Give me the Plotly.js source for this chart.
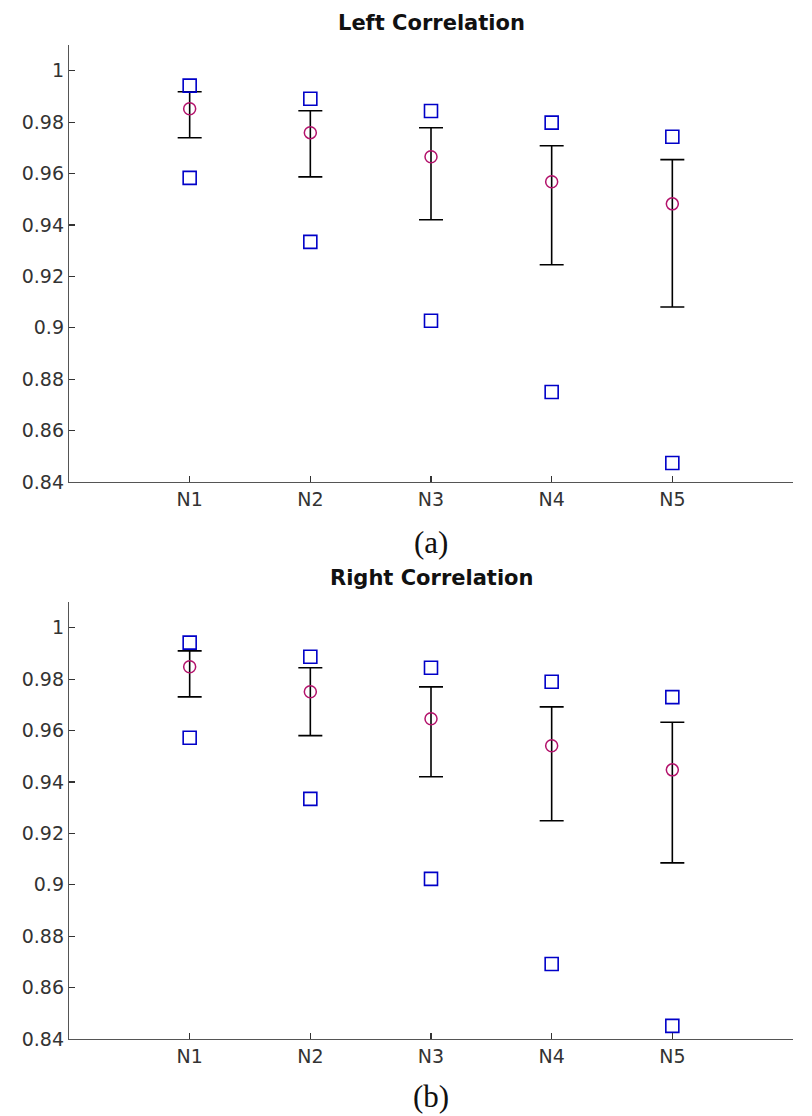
<!DOCTYPE html>
<html>
<head>
<meta charset="utf-8">
<script src="https://cdn.plot.ly/plotly-3.0.1.min.js"></script>
<style>html,body{margin:0;padding:0;background:#fff;}#chart{width:812px;height:1116px;}</style>
</head>
<body>
<div id="chart"></div>
<script>
const categories = ["N1", "N2", "N3", "N4", "N5"];
const positions = [1, 2, 3, 4, 5];

// Left correlation
const leftMean  = [0.9852, 0.9759, 0.9665, 0.9568, 0.9482];
const leftUpper = [0.9918, 0.9844, 0.9778, 0.9708, 0.9654];
const leftLower = [0.9739, 0.9587, 0.9420, 0.9245, 0.9081];
const leftMax   = [0.9942, 0.9891, 0.9843, 0.9798, 0.9743];
const leftMin   = [0.9583, 0.9334, 0.9027, 0.8750, 0.8474];

// Right correlation
const rightMean  = [0.9848, 0.9751, 0.9646, 0.9541, 0.9447];
const rightUpper = [0.9910, 0.9844, 0.9770, 0.9692, 0.9632];
const rightLower = [0.9731, 0.9580, 0.9420, 0.9249, 0.9085];
const rightMax   = [0.9942, 0.9887, 0.9844, 0.9790, 0.9730];
const rightMin   = [0.9572, 0.9334, 0.9023, 0.8692, 0.8451];

const yTicks = [0.84, 0.86, 0.88, 0.9, 0.92, 0.94, 0.96, 0.98, 1];
const yTickText = ["0.84", "0.86", "0.88", "0.9", "0.92", "0.94", "0.96", "0.98", "1"];

const circleColor = "#b3126b";
const squareColor = "#0000c8";

function traces(mean, upper, lower, mx, mn, xa, ya) {
  return [
    {
      x: positions, y: mean, xaxis: xa, yaxis: ya, type: "scatter", mode: "markers",
      marker: {symbol: "circle-open", size: 12, color: circleColor, line: {width: 1.5, color: circleColor}},
      error_y: {
        type: "data", symmetric: false,
        array: upper.map((u, i) => u - mean[i]),
        arrayminus: lower.map((l, i) => mean[i] - l),
        color: "#000", thickness: 1.6, width: 12
      },
      showlegend: false, hoverinfo: "y"
    },
    {
      x: positions.concat(positions), y: mx.concat(mn), xaxis: xa, yaxis: ya, type: "scatter", mode: "markers",
      marker: {symbol: "square-open", size: 13, color: squareColor, line: {width: 1.6, color: squareColor}},
      showlegend: false, hoverinfo: "y"
    }
  ];
}

const data = traces(leftMean, leftUpper, leftLower, leftMax, leftMin, "x", "y")
  .concat(traces(rightMean, rightUpper, rightLower, rightMax, rightMin, "x2", "y2"));

const tickFont = {family: "DejaVu Sans, Liberation Sans, sans-serif", size: 19, color: "#333"};

function xAxis(anchor) {
  return {
    range: [0, 6], tickvals: positions, ticktext: categories, anchor: anchor,
    showgrid: false, zeroline: false, showline: true, linecolor: "#555", linewidth: 1.2,
    ticks: "inside", ticklen: 6, tickcolor: "#333", tickwidth: 1.2, tickfont: tickFont, mirror: false
  };
}
function yAxis(anchor, domain) {
  return {
    range: [0.84, 1.01], tickvals: yTicks, ticktext: yTickText, anchor: anchor, domain: domain,
    showgrid: false, zeroline: false, showline: true, linecolor: "#555", linewidth: 1.2,
    ticks: "inside", ticklen: 6, tickcolor: "#333", tickwidth: 1.2, tickfont: tickFont
  };
}

const H = 994, sub = 437;
const titleFont = {family: "DejaVu Sans, Liberation Sans, sans-serif", size: 21, color: "#111"};
const capFont = {family: "Liberation Serif, Times New Roman, serif", size: 31, color: "#111"};
const layout = {
  width: 812, height: 1116,
  margin: {l: 69, r: 19, t: 45, b: 77},
  paper_bgcolor: "#fff", plot_bgcolor: "#fff",
  xaxis: xAxis("y"),
  yaxis: yAxis("x", [(H - sub) / H, 1]),
  xaxis2: xAxis("y2"),
  yaxis2: yAxis("x2", [0, sub / H]),
  annotations: [
    {text: "<b>Left Correlation</b>", xref: "paper", yref: "paper", x: 0.5, y: 1, yshift: 22, showarrow: false,
     xanchor: "center", yanchor: "middle", font: titleFont},
    {text: "(a)", xref: "paper", yref: "paper", x: 0.5, y: (H - sub) / H, yshift: -60, showarrow: false,
     xanchor: "center", yanchor: "middle", font: capFont},
    {text: "<b>Right Correlation</b>", xref: "paper", yref: "paper", x: 0.5, y: sub / H, yshift: 24, showarrow: false,
     xanchor: "center", yanchor: "middle", font: titleFont},
    {text: "(b)", xref: "paper", yref: "paper", x: 0.5, y: 0, yshift: -57, showarrow: false,
     xanchor: "center", yanchor: "middle", font: capFont}
  ]
};

Plotly.newPlot("chart", data, layout, {staticPlot: true, displayModeBar: false});
</script>
</body>
</html>
